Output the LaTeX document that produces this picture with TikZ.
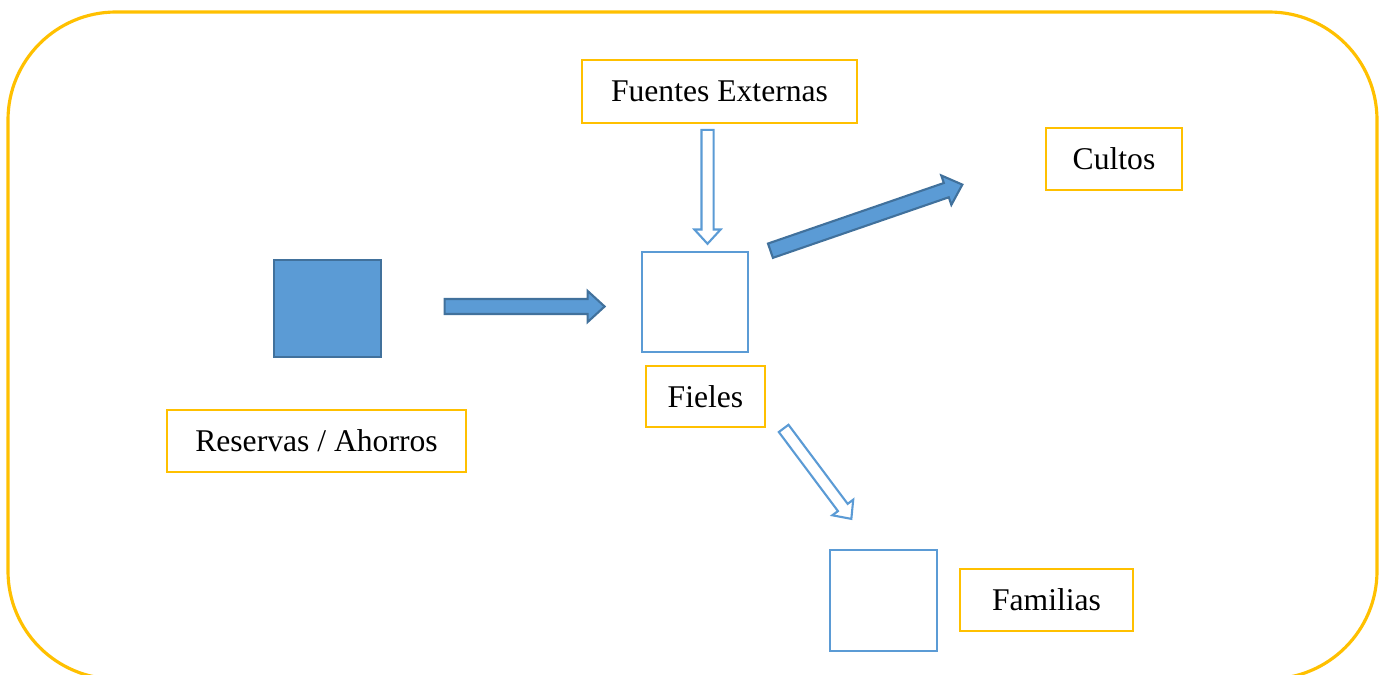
\documentclass[tikz,border=0pt]{standalone}
\usepackage{fontspec}
\setmainfont{Liberation Serif}
\usepackage[usenames,dvipsnames]{xcolor}
\usetikzlibrary{calc, shapes.arrows}
\definecolor{gold}{HTML}{FFC000}
\definecolor{azul}{HTML}{5B9BD5}
\definecolor{azuloscuro}{HTML}{41719C}

\begin{document}
\begin{tikzpicture}[x=0.02cm, y=-0.02cm,
	etiqueta/.style={draw=gold, line width=1.5pt, fill=white, inner sep=0pt,
		font=\fontsize{18}{22}\selectfont},
	caja/.style={draw=azul, line width=1.3pt, fill=white, inner sep=0pt},
	llena/.style={draw=azuloscuro, line width=1.3pt, fill=azul, inner sep=0pt},
	flechallena/.style={single arrow, draw=azuloscuro, fill=azul, line width=1.2pt,
		inner sep=0.13cm, single arrow head extend=0.16cm, single arrow tip angle=85},
	flechavacia/.style={single arrow, draw=azul, fill=white, line width=1.2pt,
		inner sep=0.1cm, single arrow head extend=0.14cm, single arrow tip angle=85}]
	\useasboundingbox (0,0) rectangle (1385,675);
	\draw[gold, line width=1.8pt, rounded corners=2.16cm] (8,12) rectangle (1377,679);

	\node[llena, minimum width=2.14cm, minimum height=1.94cm] (reserva) at (327.5,308.5) {};
	\node[caja, minimum width=2.12cm, minimum height=2cm] (fieles) at (695,302) {};
	\node[caja, minimum width=2.14cm, minimum height=2.02cm] (familias) at (883.5,600.5) {};

	\node[etiqueta, minimum width=5.5cm, minimum height=1.26cm] (fuentesTxt) at (719.5,91.5) {Fuentes Externas};
	\node[etiqueta, minimum width=2.72cm, minimum height=1.24cm] (cultosTxt) at (1114,159) {Cultos};
	\node[etiqueta, minimum width=2.38cm, minimum height=1.22cm] (fielesTxt) at (705.5,396.5) {Fieles};
	\node[etiqueta, minimum width=5.98cm, minimum height=1.24cm] (reservaTxt) at (316.5,441) {Reservas / Ahorros};
	\node[etiqueta, minimum width=3.46cm, minimum height=1.24cm] (familiasTxt) at (1046.5,600) {Familias};

	\coordinate (a1) at (438,306.5);
	\coordinate (a2) at (603,306.5);
	\coordinate (b1) at (764,253);
	\coordinate (b2) at (961,185);
	\coordinate (c1) at (707.5,124);
	\coordinate (c2) at (707.5,243);
	\coordinate (d1) at (780,424);
	\coordinate (d2) at (851,518);

	\node[flechallena, minimum height=3.2cm] (aFieles) at ($(a1)!0.5!(a2)$) {};
	\node[flechallena, minimum height=4.06cm, rotate=19] (aCultos) at ($(b1)!0.5!(b2)$) {};
	\node[flechavacia, minimum height=2.28cm, rotate=-90] (deFuentes) at ($(c1)!0.5!(c2)$) {};
	\node[flechavacia, minimum height=2.26cm, rotate=-53.2] (aFamilias) at ($(d1)!0.5!(d2)$) {};
\end{tikzpicture}
\end{document}
